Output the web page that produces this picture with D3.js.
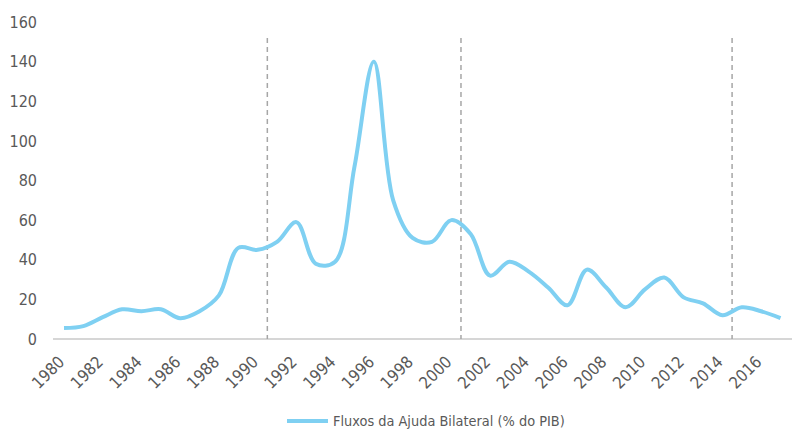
<!DOCTYPE html>
<html>
<head>
<meta charset="utf-8">
<script src="https://cdn.jsdelivr.net/npm/d3@7"></script>
<style>
  body { margin: 0; background: #fff; }
  text { font-family: "Liberation Sans Narrow", "DejaVu Sans Condensed", sans-serif; fill: #595959; }
</style>
</head>
<body>
<script>
// years on the x axis
let years = d3.range(1980, 2018);

// bilateral aid flows (% of GDP)
let aidValues = [5.5, 6.5, 11, 15, 14, 15, 10.5, 14, 22, 46,
  45, 49, 59, 38, 39, 87, 140, 70, 51, 49,
  60, 53, 32, 39, 34, 26, 17, 35, 26, 16,
  25, 31, 21, 18, 12, 16, 14, 10.5];

// years where the dashed markers sit (between two years)
let markerYears = [1990.5, 2000.5, 2014.5];

// tick labels
let yTicks = [0, 20, 40, 60, 80, 100, 120, 140, 160];
let xTickYears = d3.range(1980, 2018, 2);

let legendLabel = "Fluxos da Ajuda Bilateral (% do PIB)";

let width = 794, height = 430;
let lineColor = "#7fd0f2";

let svg = d3.select("body").append("svg")
  .attr("width", width)
  .attr("height", height);

// scales
let xScale = d3.scaleLinear()
  .domain([1980, 2017])
  .range([64, 780.5]);
let yScale = d3.scaleLinear()
  .domain([0, 160])
  .range([339, 22]);

// y axis labels (no line)
let yAxis = d3.axisLeft(yScale).tickValues(yTicks).tickSize(0).tickPadding(0);
let yG = svg.append("g")
  .attr("transform", "translate(37,0)")
  .call(yAxis);
yG.select(".domain").remove();
yG.selectAll("text").style("font-size", "16px").attr("fill", "#595959");

// x axis
let xAxis = d3.axisBottom(xScale).tickValues(xTickYears).tickSize(0).tickFormat(d3.format("d"));
let xG = svg.append("g")
  .attr("transform", "translate(0,339)")
  .call(xAxis);
xG.select(".domain").remove();
xG.selectAll("text")
  .style("font-size", "16.5px")
  .attr("fill", "#595959")
  .attr("text-anchor", "end")
  .attr("dy", null)
  .attr("y", 0)
  .attr("transform", "translate(1,24) rotate(-45)");

// base line
svg.append("line")
  .attr("x1", 53).attr("x2", 792)
  .attr("y1", yScale(0)).attr("y2", yScale(0))
  .attr("stroke", "#c8c8c8")
  .attr("stroke-width", 1.5);

// dashed markers
svg.selectAll(".marker")
  .data(markerYears)
  .enter()
  .append("line")
  .attr("class", "marker")
  .attr("x1", d => xScale(d)).attr("x2", d => xScale(d))
  .attr("y1", 38).attr("y2", yScale(0))
  .attr("stroke", "#a6a6a6")
  .attr("stroke-width", 1.5)
  .attr("stroke-dasharray", "5,4");

// smoothed line
let line = d3.line()
  .x((d, i) => xScale(years[i]))
  .y(d => yScale(d))
  .curve(d3.curveCatmullRom.alpha(0.5));

svg.append("path")
  .datum(aidValues)
  .attr("fill", "none")
  .attr("stroke", lineColor)
  .attr("stroke-width", 4)
  .attr("stroke-linejoin", "round")
  .attr("d", line);

// legend
svg.append("line")
  .attr("x1", 287).attr("x2", 328)
  .attr("y1", 421).attr("y2", 421)
  .attr("stroke", lineColor)
  .attr("stroke-width", 4);
svg.append("text")
  .attr("x", 333)
  .attr("y", 426)
  .style("font-size", "14.4px")
  .text(legendLabel);
</script>
</body>
</html>
